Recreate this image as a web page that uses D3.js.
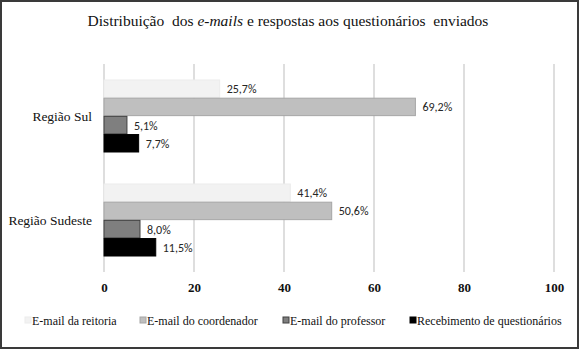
<!DOCTYPE html>
<html><head><meta charset="utf-8">
<script src="https://cdn.jsdelivr.net/npm/d3@7"></script>
<style>body{margin:0;background:#fff}svg{display:block}</style>
</head><body>
<svg id="c" width="580" height="351"></svg>
<script>
const categories = ["Região Sul", "Região Sudeste"];
const seriesNames = ["E-mail da reitoria", "E-mail do coordenador", "E-mail do professor", "Recebimento de questionários"];
const reitoria = [25.7, 41.4];
const coordenador = [69.2, 50.6];
const professor = [5.1, 8.0];
const recebimento = [7.7, 11.5];
const xTicks = [0, 20, 40, 60, 80, 100];
const seriesValues = [reitoria, coordenador, professor, recebimento];
const fills = ["#f2f2f2", "#bfbfbf", "#7f7f7f", "#000000"];
const strokes = ["#ececec", "#a6a6a6", "#404040", "#000000"];

(function(){
const svg = d3.select("#c");
svg.append("rect").attr("x",1).attr("y",1).attr("width",577).attr("height",347)
  .attr("fill","#fff").attr("stroke","#3a3a3a").attr("stroke-width",2);

const title = svg.append("text").attr("x",288).attr("y",26).attr("text-anchor","middle")
  .attr("font-family","Liberation Serif, Times New Roman, serif").attr("font-size",15.5).attr("fill","#111")
  .style("white-space","pre");
title.append("tspan").text("Distribuição  dos ");
title.append("tspan").attr("font-style","italic").text("e-mails");
title.append("tspan").text(" e respostas aos questionários  enviados");

const pL = 104, pR = 554, pT = 64, pB = 272;
const x = d3.scaleLinear().domain([0,100]).range([pL,pR]);
const y = d3.scaleBand().domain(categories).range([pT,pB]).paddingInner(0.3077).paddingOuter(0.1538);
const inner = d3.scaleBand().domain(d3.range(seriesNames.length)).range([0,y.bandwidth()]).paddingInner(0.04);

svg.append("g").selectAll("line").data(xTicks).join("line")
  .attr("x1",d=>x(d)).attr("x2",d=>x(d)).attr("y1",pT).attr("y2",pB)
  .attr("stroke","#bdbdbd").attr("stroke-width",1);

const ax = svg.append("g").attr("transform",`translate(0,${pB})`)
  .call(d3.axisBottom(x).tickValues(xTicks).tickSize(0).tickPadding(11).tickFormat(d3.format("d")));
ax.select(".domain").remove();
ax.selectAll("text").attr("font-family","Liberation Serif, Times New Roman, serif").attr("font-size",13).attr("fill","#111").attr("font-weight","bold");

svg.append("g").selectAll("text").data(categories).join("text")
  .attr("x",92).attr("y",d=>y(d)+y.bandwidth()/2+5).attr("text-anchor","end")
  .attr("font-family","Liberation Serif, Times New Roman, serif").attr("font-size",13.5).attr("fill","#111")
  .text(d=>d);

const fmt = v => v.toFixed(1).replace(".",",") + "%";
seriesValues.forEach((vals, si) => {
  const g = svg.append("g");
  g.selectAll("rect").data(vals).join("rect")
    .attr("x",x(0)).attr("y",(d,i)=>y(categories[i])+inner(si))
    .attr("width",d=>x(d)-x(0)).attr("height",inner.bandwidth())
    .attr("fill",fills[si]).attr("stroke",strokes[si]).attr("stroke-width",1);
  g.selectAll("text").data(vals).join("text")
    .attr("x",d=>x(d)+7).attr("y",(d,i)=>y(categories[i])+inner(si)+inner.bandwidth()/2+4.5)
    .attr("font-family","Carlito, Open Sans, Liberation Sans, sans-serif").attr("font-size",12).attr("fill","#262626")
    .text(d=>fmt(d));
});

const legX = [25, 140, 283, 410];
const lg = svg.append("g");
seriesNames.forEach((n,i)=>{
  lg.append("rect").attr("x",legX[i]).attr("y",317).attr("width",6).attr("height",6)
    .attr("fill",fills[i]).attr("stroke",strokes[i]);
  lg.append("text").attr("x",legX[i]+7).attr("y",324.5)
    .attr("font-family","Liberation Serif, Times New Roman, serif").attr("font-size",12).attr("fill","#111").text(n);
});
})();
</script>
</body></html>
